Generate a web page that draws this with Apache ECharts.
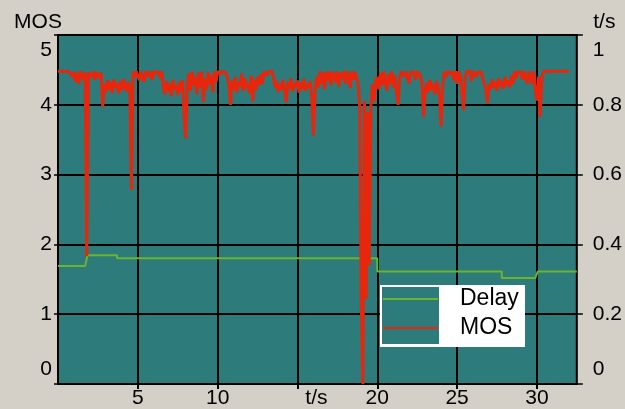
<!DOCTYPE html>
<html>
<head>
<meta charset="utf-8">
<script src="https://cdn.jsdelivr.net/npm/echarts@6.0.0/dist/echarts.min.js"></script>
<style>
html,body{margin:0;padding:0;background:#D4D0C8;}
#chart{width:625px;height:409px;}
</style>
</head>
<body>
<div id="chart"></div>
<script>
// ---- data ----
const xTickLabels = ['5', '10', 't/s', '20', '25', '30'];
const xTickValues = [5, 10, 15, 20, 25, 30];
const mosTickLabels = ['0', '1', '2', '3', '4', '5'];
const delayTickLabels = ['0', '0.2', '0.4', '0.6', '0.8', '1'];

// MOS samples every 0.1 s starting at t = 0 s
const mosStart = 0;
const mosStep = 0.1;
const mosValues = [
  4.48,4.48,4.48,4.48,4.48,4.48,4.48,4.48,4.45,4.40,
  4.47,4.33,4.46,4.30,4.48,4.42,4.36,4.47,1.83,4.46,
  4.48,4.40,4.48,4.36,4.47,4.48,4.38,4.46,3.97,4.30,
  4.18,4.35,4.22,4.33,4.17,4.36,4.25,4.31,4.16,4.34,
  4.21,4.37,4.26,4.19,4.33,4.24,2.78,4.48,4.40,4.48,
  4.48,4.35,4.48,4.46,4.33,4.48,4.48,4.40,4.48,4.36,
  4.48,4.48,4.45,4.48,4.38,4.48,4.25,4.15,4.34,4.20,
  4.30,4.12,4.36,4.22,4.28,4.14,4.33,4.19,4.35,3.84,
  3.52,4.30,4.45,4.20,4.48,4.28,4.40,4.15,4.46,4.25,
  4.48,4.04,4.38,4.22,4.47,4.30,4.42,4.18,4.48,4.33,
  4.48,4.48,4.44,4.48,4.48,4.46,4.40,4.30,4.00,4.35,
  4.22,4.40,4.18,4.32,4.26,4.45,4.20,4.38,4.24,4.30,
  4.16,4.42,4.05,4.36,4.22,4.40,4.28,4.44,4.30,4.48,
  4.48,4.42,4.48,4.46,4.48,4.40,4.25,4.34,4.18,4.30,
  4.22,4.36,4.20,4.04,4.33,4.24,4.38,4.19,4.31,4.26,
  4.35,4.17,4.32,4.23,4.37,4.20,4.30,4.25,4.34,4.10,
  3.56,4.20,4.40,4.25,4.48,4.30,4.46,4.22,4.48,4.35,
  4.47,4.28,4.48,4.40,4.32,4.48,4.26,4.46,4.38,4.48,
  4.30,4.48,4.42,4.24,4.48,4.36,4.47,4.48,4.30,3.95,
  1.10,0.00,4.05,1.22,3.90,1.70,3.98,4.30,4.05,4.35,
  4.40,4.22,4.46,4.28,4.48,4.33,4.20,4.45,4.30,4.48,
  4.25,4.42,4.18,4.00,4.38,4.48,4.48,4.40,4.48,4.48,
  4.30,4.48,4.45,4.48,4.36,4.48,4.48,4.42,4.30,3.83,
  4.20,4.32,4.18,4.36,4.22,4.30,4.15,4.34,4.26,4.12,
  3.69,4.28,4.48,4.40,4.48,4.48,4.44,4.48,4.35,4.48,
  4.30,4.48,4.42,4.20,3.92,4.38,4.48,4.46,4.48,4.34,
  4.48,4.48,4.40,4.48,4.45,4.48,4.48,4.30,4.22,4.02,
  4.30,4.22,4.36,4.25,4.33,4.20,4.38,4.27,4.34,4.23,
  4.40,4.28,4.35,4.25,4.42,4.30,4.48,4.38,4.48,4.45,
  4.48,4.36,4.48,4.48,4.30,4.48,4.42,4.30,4.48,4.20,
  4.06,4.40,3.83,4.35,4.48,4.48,4.48,4.48,4.48,4.48,
  4.48,4.48,4.48,4.48,4.48,4.48,4.48,4.48,4.48,4.48,
  4.48
];

// Delay (t/s) as a stepped trace: time points and values
const delayTimes  = [0,     1.70,  1.85,  3.70,  3.70,  20.0,  20.0,  27.8,  27.8,  29.9,  30.05, 32.5];
const delayValues = [0.338, 0.338, 0.369, 0.369, 0.360, 0.360, 0.322, 0.322, 0.304, 0.304, 0.322, 0.322];

// ---- build chart ----
const FONT = "'Liberation Sans', Arial, sans-serif";
const TEAL = '#2D7B7A';
const mosData = mosValues.map((v, i) => [+(mosStart + i * mosStep).toFixed(2), v]);
const delayData = delayTimes.map((t, i) => [t, delayValues[i]]);

const chart = echarts.init(document.getElementById('chart'), null, {renderer: 'canvas'});
chart.setOption({
  animation: false,
  backgroundColor: '#D4D0C8',
  textStyle: {fontFamily: FONT},
  grid: {
    left: 58, top: 35, width: 519, height: 349,
    show: true, backgroundColor: TEAL, borderColor: '#000', borderWidth: 2
  },
  xAxis: {
    type: 'value', min: 0, max: 32.5, interval: 5,
    axisLine: {show: false},
    axisTick: {show: true, length: 5, customValues: xTickValues, lineStyle: {color: '#000', width: 2}},
    splitLine: {show: true, lineStyle: {color: '#000', width: 2}},
    axisLabel: {
      customValues: xTickValues,
      margin: 4, fontSize: 21, color: '#000', fontFamily: FONT,
      formatter: function (v) {
        const idx = xTickValues.indexOf(Math.round(v * 100) / 100);
        if (idx < 0) return '';
        const lab = xTickLabels[idx];
        return lab === 't/s' ? '{ts|' + lab + '}' : lab;
      },
      rich: {ts: {fontSize: 21, color: '#000', fontFamily: FONT, padding: [0, 0, 0, 38]}}
    }
  },
  yAxis: [{
    type: 'value', min: 0, max: 5, interval: 1, position: 'left',
    name: 'MOS', nameLocation: 'end', nameGap: 2,
    nameTextStyle: {fontSize: 21, color: '#000', fontFamily: FONT, align: 'center', padding: [0, 40, 0, 0]},
    axisLine: {show: false},
    axisTick: {show: true, length: 4, lineStyle: {color: '#000', width: 1.5}},
    splitLine: {show: true, lineStyle: {color: '#000', width: 2}},
    axisLabel: {
      margin: 6, fontSize: 21, color: '#000', fontFamily: FONT,
      formatter: function (v) {
        const lab = mosTickLabels[Math.round(v)];
        if (Math.round(v) === 5) return '{dn|' + lab + '}';
        if (Math.round(v) === 0) return '{up|' + lab + '}';
        return lab;
      },
      rich: {
        dn: {fontSize: 21, color: '#000', fontFamily: FONT, padding: [30, 0, 0, 0]},
        up: {fontSize: 21, color: '#000', fontFamily: FONT, padding: [0, 0, 30, 0]}
      }
    }
  }, {
    type: 'value', min: 0, max: 1, interval: 0.2, position: 'right',
    name: 't/s', nameLocation: 'end', nameGap: 2,
    nameTextStyle: {fontSize: 21, color: '#000', fontFamily: FONT, align: 'center', padding: [0, 0, 0, 55]},
    axisLine: {show: false},
    axisTick: {show: true, length: 6, lineStyle: {color: '#000', width: 1.5}},
    splitLine: {show: false},
    axisLabel: {
      margin: 16, fontSize: 21, color: '#000', fontFamily: FONT,
      formatter: function (v) {
        const i = Math.round(v * 5);
        const lab = delayTickLabels[i];
        if (i === 5) return '{dn|' + lab + '}';
        if (i === 0) return '{up|' + lab + '}';
        return lab;
      },
      rich: {
        dn: {fontSize: 21, color: '#000', fontFamily: FONT, padding: [30, 0, 0, 0]},
        up: {fontSize: 21, color: '#000', fontFamily: FONT, padding: [0, 0, 30, 0]}
      }
    }
  }],
  legend: {
    data: ['Delay', 'MOS'], orient: 'vertical', left: 383, top: 284.5, padding: 0,
    icon: 'rect', itemWidth: 55, itemHeight: 2, itemGap: 0, selectedMode: false,
    textStyle: {fontSize: 23, lineHeight: 29, color: '#000', fontFamily: FONT, padding: [0, 0, 0, 17]}
  },
  graphic: [
    {type: 'rect', left: 380, top: 285, z: 1, shape: {width: 145, height: 62}, style: {fill: '#ffffff'}},
    {type: 'rect', left: 382, top: 287, z: 1.5, shape: {width: 57, height: 57}, style: {fill: TEAL}}
  ],
  series: [{
    name: 'Delay', type: 'line', yAxisIndex: 1, data: delayData,
    symbol: 'none', lineStyle: {color: '#6AB42E', width: 2}, itemStyle: {color: '#6AB42E'}
  }, {
    name: 'MOS', type: 'line', yAxisIndex: 0, data: mosData,
    symbol: 'none', lineStyle: {color: '#E8260C', width: 3}, itemStyle: {color: '#E8260C'}
  }]
});
</script>
</body>
</html>
